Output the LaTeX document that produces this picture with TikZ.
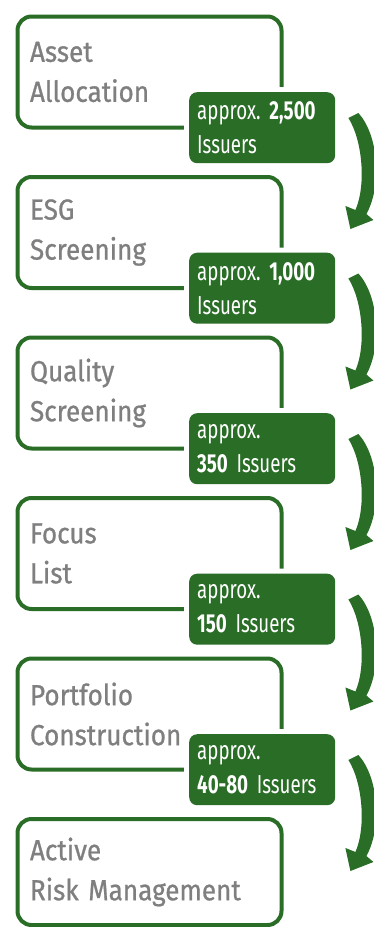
\documentclass[tikz,border=0pt]{standalone}
\usepackage{fontspec}
\setmainfont{Fira Sans}
\newfontfamily\boxfont[FakeStretch=0.9,FakeBold=0.8]{Fira Sans}
\newfontfamily\labfont[FakeStretch=0.72,Numbers=Proportional]{Fira Sans}
\protected\def\labspacing{\frenchspacing\spaceskip=5pt\relax}
\usetikzlibrary{calc}
\definecolor{dgreen}{HTML}{2A6D27}
\definecolor{tgray}{HTML}{7F7F7F}
\begin{document}
\begin{tikzpicture}[x=1pt,y=-1pt,
  stepbox/.style={draw=dgreen, line width=4pt, rounded corners=14pt, fill=white,
    minimum width=264pt, minimum height=111pt, text width=239pt, align=left,
    inner xsep=12.5pt, inner ysep=0pt, anchor=north west, text=tgray,
    font=\boxfont\fontsize{29}{40}\selectfont},
  countlab/.style={fill=dgreen, rounded corners=8pt, preaction={draw=white, line width=10pt},
    minimum width=146pt, minimum height=71pt, text width=130pt, align=left,
    inner xsep=8pt, inner ysep=0pt, anchor=north west, text=white,
    font=\labfont\fontsize{26}{34}\selectfont\labspacing},
  flowarrow/.style={fill=dgreen, draw=none}
]
\useasboundingbox (0,0) rectangle (374,927);
\node[stepbox] (b1) at (15.5,14.5) {Asset\\Allocation};
\node[stepbox] (b2) at (15.5,175) {ESG\\Screening};
\node[stepbox] (b3) at (15.5,335.5) {Quality\\Screening};
\node[stepbox] (b4) at (15.5,496) {Focus\\List};
\node[stepbox] (b5) at (15.5,656.5) {Portfolio\\Construction};
\node[stepbox, minimum height=106pt] (b6) at (15.5,817) {Active\\Risk Management};
\node[countlab] (l1) at (189,92) {\mbox{approx. \textbf{2,500}}\\\mbox{Issuers}};
\node[countlab] (l2) at (189,252.5) {\mbox{approx. \textbf{1,000}}\\\mbox{Issuers}};
\node[countlab] (l3) at (189,413) {\mbox{approx.}\\\mbox{\textbf{350} Issuers}};
\node[countlab] (l4) at (189,573.5) {\mbox{approx.}\\\mbox{\textbf{150} Issuers}};
\node[countlab] (l5) at (189,734) {\mbox{approx.}\\\mbox{\textbf{40-80} Issuers}};
\foreach \i in {1,...,5} {
  \coordinate (s\i) at ($(l\i.north east)+(13,26)$);
  \begin{scope}[shift={(s\i)}]
    \path[flowarrow] (0,0) .. controls (14,22) and (18,67) .. (7,92)
      -- (-3,88) -- (2,111) -- (25,102) -- (18,96)
      .. controls (34,67) and (30,17) .. (10,-5) -- cycle;
  \end{scope}
}
\end{tikzpicture}
\end{document}
